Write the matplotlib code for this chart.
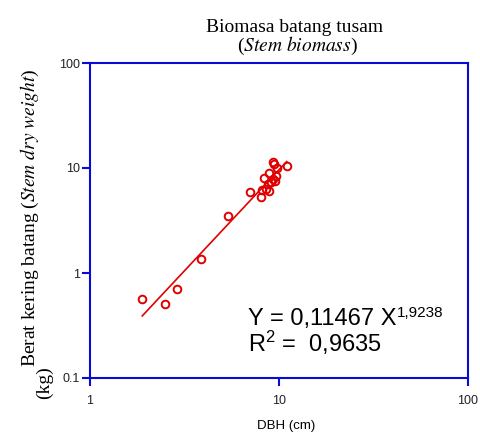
import matplotlib

matplotlib.use("Agg")
import matplotlib.pyplot as plt
import numpy as np

# stem biomass of tusam trees
dbh = [1.89, 2.50, 2.89, 3.87, 5.39, 7.05, 8.03, 8.16, 8.50, 8.85, 8.33, 8.89,
       9.33, 9.60, 9.52, 9.33, 9.46, 9.72, 10.98, 8.70, 9.10]
stem_weight = [0.565, 0.507, 0.709, 1.36, 3.49, 5.95, 5.26, 6.17, 6.27, 6.08, 8.09, 8.91,
               7.80, 8.39, 7.57, 11.5, 10.9, 9.94, 10.4, 7.00, 7.40]
fit_a, fit_b = 0.11467, 1.9238
r_squared = "0,9635"
ticks = [1, 10, 100]
yticks = [0.1, 1, 10, 100]

plt.rcParams["mathtext.fontset"] = "custom"
plt.rcParams["mathtext.rm"] = "Liberation Sans"
plt.rcParams["mathtext.it"] = "Liberation Sans:italic"

BLUE = "#0a0ad8"
RED = "#e00000"

fig = plt.figure(figsize=(4.81, 4.32), dpi=100)
ax = fig.add_axes([90 / 481, 1 - 378 / 432, 378 / 481, 315 / 432])

ax.plot(dbh, stem_weight, "o", ms=5.5, mfc="none", mec=RED, mew=1.4)
xs = np.array([min(dbh), max(dbh)])
ax.plot(xs, fit_a * xs ** fit_b, color=RED, lw=1.2)

ax.set_xscale("log")
ax.set_yscale("log")
ax.set_xlim(1, 100)
ax.set_ylim(0.1, 100)
ax.set_xticks(ticks)
ax.set_xticklabels([str(t) for t in ticks])
ax.set_yticks(yticks)
ax.set_yticklabels(["0.1", "1", "10", "100"])
ax.minorticks_off()
for s in ax.spines.values():
    s.set_color(BLUE)
    s.set_linewidth(1.5)
ax.tick_params(direction="out", length=6, width=1.5, color=BLUE,
               labelsize=9, labelcolor="#222222", pad=1.5)
ax.tick_params(axis="x", pad=6)
for lab in ax.get_xticklabels() + ax.get_yticklabels():
    lab.set_family("Liberation Sans")

fig.text(286 / 481, 1 - 426 / 432, "DBH (cm)", ha="center", va="center",
         fontsize=9.5, family="Liberation Sans")

fig.text(295 / 481, 1 - 27 / 432, "Biomasa batang tusam", ha="center", va="center",
         fontsize=14, family="Liberation Serif")
fig.text(297 / 481, 1 - 46 / 432, r"($\mathit{Stem\ biomass}$)", ha="center", va="center",
         fontsize=14, family="Liberation Serif", math_fontfamily="stix")

fig.text(30 / 481, 1 - 218 / 432, r"Berat kering batang ($\mathit{Stem\ dry\ weight}$)",
         rotation=90, ha="center", va="center", fontsize=14,
         family="Liberation Serif", math_fontfamily="stix")
fig.text(44 / 481, 1 - 383 / 432, "(kg)", rotation=90, ha="center", va="center",
         fontsize=14, family="Liberation Serif")

eq = fig.text(248 / 481, 1 - 325 / 432, "Y = 0,11467 X", ha="left", va="baseline",
              fontsize=17, family="Liberation Sans")
ax.annotate("1,9238", xy=(1, 0), xycoords=eq, xytext=(0.5, 9.5), textcoords="offset points",
            ha="left", va="baseline", fontsize=11, family="Liberation Sans",
            annotation_clip=False)
fig.text(248 / 481, 1 - 352 / 432, r"R$^2$ =  " + r_squared, ha="left", va="baseline",
         fontsize=17, family="Liberation Sans")

fig.savefig("out.png", dpi=100)
